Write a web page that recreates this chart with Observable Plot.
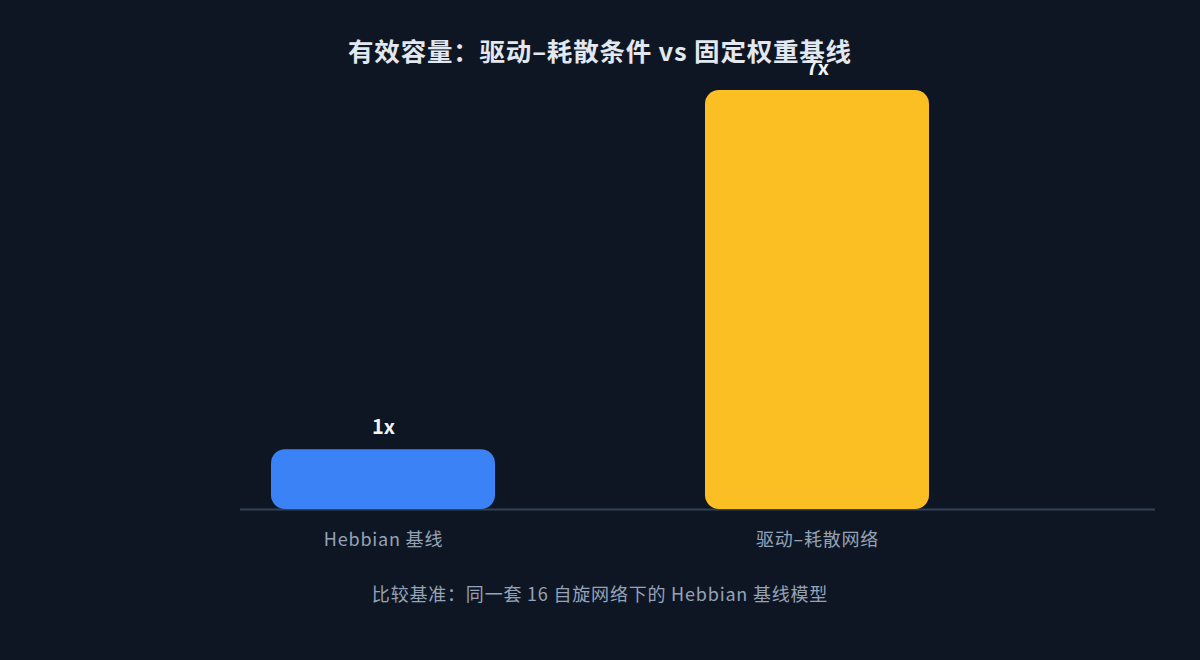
<!DOCTYPE html>
<html>
<head>
<meta charset="utf-8">
<script src="https://cdn.jsdelivr.net/npm/d3@7"></script>
<script src="https://cdn.jsdelivr.net/npm/@observablehq/plot@0.6"></script>
<style>
  html, body { margin: 0; padding: 0; background: #0f1623; }
  body { width: 1200px; height: 660px; position: relative; overflow: hidden;
         font-family: "Noto Sans CJK SC", sans-serif; }
  #chart { position: absolute; left: 0; top: 0; }
  #title { position: absolute; left: 0; width: 1200px; top: 32px; text-align: center; line-height: 36px;
           color: #e2e8f0; font-size: 25.5px; font-weight: 700; letter-spacing: 0.8px; z-index: 2; }
  #caption { position: absolute; left: 0; width: 1200px; top: 580px; text-align: center; line-height: 26px;
             color: #94a3b8; font-size: 18px; letter-spacing: 0.8px; }
</style>
</head>
<body>
<div id="title">有效容量：驱动–耗散条件 vs 固定权重基线</div>
<div id="chart"></div>
<div id="caption">比较基准：同一套 16 自旋网络下的 Hebbian 基线模型</div>
<script>
const categories = ["Hebbian 基线", "驱动–耗散网络"];
const values = [1, 7];
const valueLabels = ["1x", "7x"];
const colors = ["#3b82f6", "#fbbf24"];

const data = categories.map((c, i) => ({category: c, value: values[i], label: valueLabels[i], color: colors[i]}));

const chart = Plot.plot({
  width: 1200,
  height: 570,
  marginTop: 90,
  marginBottom: 61,
  marginLeft: 240,
  marginRight: 45,
  style: {background: "transparent", fontFamily: "'Noto Sans CJK SC', sans-serif"},
  x: {domain: categories, range: [60, 1140], padding: 0.483, label: null},
  y: {domain: [0, 7], axis: null},
  marks: [
    Plot.ruleY([0], {stroke: "#334155", strokeWidth: 2}),
    Plot.barY(data, {x: "category", y: "value", fill: "color", rx: 14}),
    Plot.text(data, {x: "category", y: "value", text: "label", dy: -22, fill: "#f1f5f9",
      fontSize: 20, fontWeight: 700}),
    Plot.axisX({tickSize: 0, tickPadding: 24, fontSize: 18, color: "#94a3b8", label: null,
      letterSpacing: "0.8px"})
  ]
});
chart.querySelectorAll("[aria-label='x-axis tick label'] text").forEach(t => t.style.letterSpacing = "0.8px");
document.getElementById("chart").appendChild(chart);
</script>
</body>
</html>
